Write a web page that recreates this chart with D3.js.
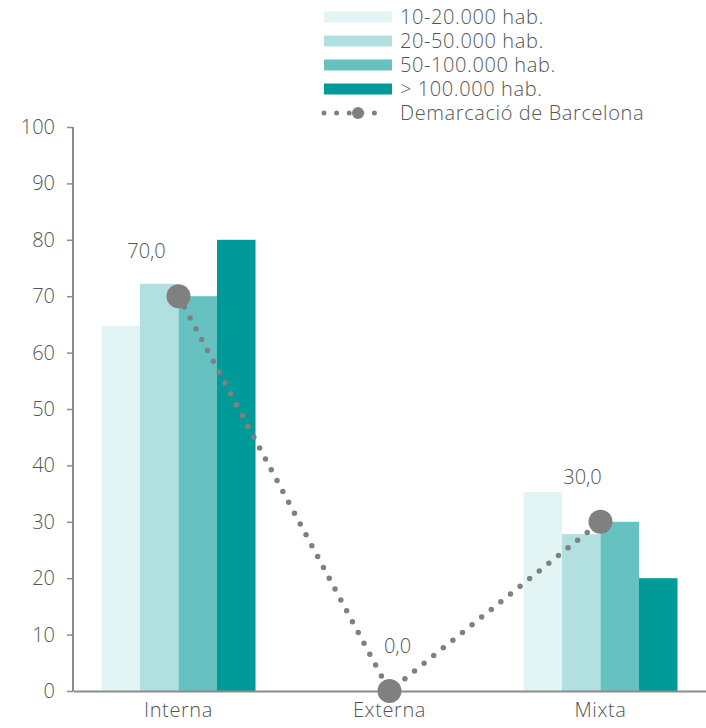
<!DOCTYPE html>
<html><head><meta charset="utf-8">
<script src="https://cdn.jsdelivr.net/npm/d3@7"></script>
<style>body{margin:0;background:#fff}text{font-family:"Open Sans","Liberation Sans",Arial,sans-serif;font-weight:300}</style>
</head><body>
<svg id="c" width="706" height="728"></svg>
<script>
const categories = ["Interna", "Externa", "Mixta"];
const seriesNames = ["10-20.000 hab.", "20-50.000 hab.", "50-100.000 hab.", "> 100.000 hab."];
const s1 = [64.7, 0, 35.3];
const s2 = [72.2, 0, 27.8];
const s3 = [70.0, 0, 30.0];
const s4 = [80.0, 0, 20.0];
const lineName = "Demarcació de Barcelona";
const lineValues = [70.0, 0.0, 30.0];
const yTicks = [0, 10, 20, 30, 40, 50, 60, 70, 80, 90, 100];
const colors = ["#e3f4f4", "#b2dfdf", "#66c2c1", "#009a98"];

const series = [s1, s2, s3, s4];
const svg = d3.select("#c");
const textCol = "#555555";
const axisCol = "#8c8c8c";
const lineCol = "#808080";
const fs = "20px";
const ls = "0.6px";

const x = d3.scaleBand().domain(categories).range([73, 706]).paddingInner(0).paddingOuter(0);
const y = d3.scaleLinear().domain([0, 100]).range([691, 127]);
const groupW = x.bandwidth() * 0.73;
const xs = d3.scaleBand().domain(d3.range(series.length)).range([0, groupW]);

// bars
series.forEach((vals, si) => {
  svg.append("g").selectAll("rect").data(vals).join("rect")
    .attr("x", (d, i) => x(categories[i]) + (x.bandwidth() - groupW) / 2 + xs(si))
    .attr("width", xs.bandwidth())
    .attr("y", d => y(d))
    .attr("height", d => y(0) - y(d))
    .attr("fill", colors[si]);
});

// y axis
const yAxis = svg.append("g").attr("transform", "translate(73,0)")
  .call(d3.axisLeft(y).tickValues(yTicks).tickSize(6).tickPadding(12).tickFormat(d3.format("d")));
yAxis.select(".domain").attr("stroke", axisCol).attr("stroke-width", 2).attr("d", `M0,${y(100)}V${y(0)}`);
yAxis.selectAll(".tick line").attr("stroke", axisCol).attr("stroke-width", 1.5);
yAxis.selectAll(".tick text").attr("fill", textCol).style("font-size", fs);

// x axis
const xAxis = svg.append("g").attr("transform", `translate(0,${y(0)})`)
  .call(d3.axisBottom(x).tickSize(0).tickPadding(12));
xAxis.select(".domain").attr("stroke", axisCol).attr("stroke-width", 2);
xAxis.selectAll(".tick text").attr("fill", textCol).style("font-size", fs).style("letter-spacing", ls);

// line
const pts = lineValues.map((v, i) => [x(categories[i]) + x.bandwidth() / 2, y(v)]);
svg.append("path").attr("d", d3.line()(pts)).attr("fill", "none")
  .attr("stroke", lineCol).attr("stroke-width", 5.5).attr("stroke-linecap", "round")
  .attr("stroke-dasharray", "0 12.3");
svg.append("g").selectAll("circle").data(pts).join("circle")
  .attr("cx", d => d[0]).attr("cy", d => d[1]).attr("r", 12).attr("fill", lineCol);
svg.append("g").selectAll("text").data(lineValues).join("text")
  .attr("x", (d, i) => pts[i][0] - (i === 0 ? 32 : i === 1 ? -8 : 18))
  .attr("y", (d, i) => pts[i][1] - 38)
  .attr("text-anchor", "middle").attr("fill", textCol).style("font-size", fs)
  .text(d => d3.format(".1f")(d).replace(".", ","));

// legend
const lg = svg.append("g");
seriesNames.forEach((n, i) => {
  const cy = 17 + i * 24;
  lg.append("rect").attr("x", 324).attr("y", cy - 5.5).attr("width", 68).attr("height", 11).attr("fill", colors[i]);
  lg.append("text").attr("x", 400).attr("y", cy + 7).attr("fill", textCol).style("font-size", fs).style("letter-spacing", ls).text(n);
});
const ly = 113;
lg.append("line").attr("x1", 324).attr("x2", 387).attr("y1", ly).attr("y2", ly)
  .attr("stroke", lineCol).attr("stroke-width", 5).attr("stroke-linecap", "round").attr("stroke-dasharray", "0 12.6");
lg.append("circle").attr("cx", 358).attr("cy", ly).attr("r", 6).attr("fill", lineCol);
lg.append("text").attr("x", 400).attr("y", ly + 7).attr("fill", textCol).style("font-size", fs).style("letter-spacing", ls).text(lineName);
</script>
</body></html>
